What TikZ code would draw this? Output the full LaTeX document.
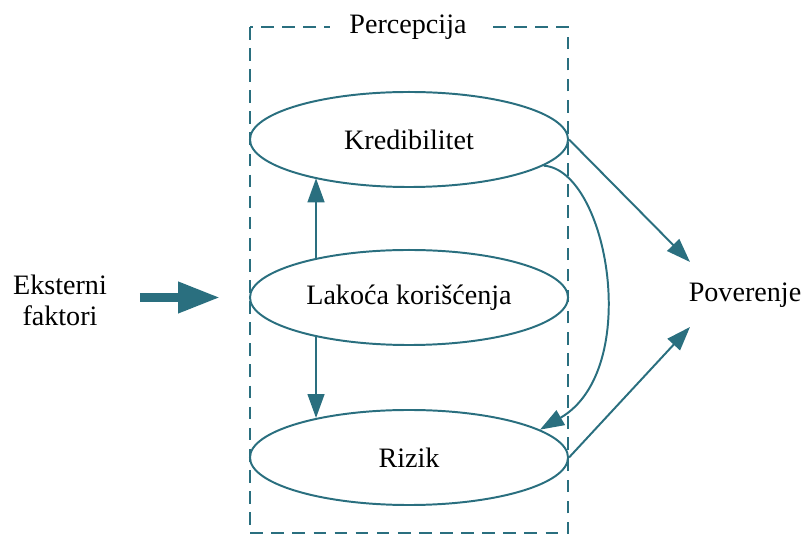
\documentclass[tikz,border=0pt]{standalone}
\usepackage{fontspec}
\setmainfont{Liberation Serif}
\usetikzlibrary{shapes.geometric,arrows.meta,positioning}
\definecolor{tealline}{HTML}{2A6F7F}
\tikzset{
  faktor/.style={ellipse, draw=tealline, line width=1.4pt, minimum width=7.95cm, minimum height=2.375cm},
  veza/.style={draw=tealline, line width=1.4pt, -{Triangle[length=0.6cm,width=0.42cm]}},
  ulaz/.style={draw=tealline, line width=6.4pt, -{Triangle[length=1.05cm,width=0.73cm]}}
}
\begin{document}
\begin{tikzpicture}[x=0.025cm,y=-0.025cm,font=\fontsize{20}{22}\selectfont]
\useasboundingbox (0,0) rectangle (803,536);
\draw[tealline, line width=1.4pt, dash pattern=on 9pt off 6pt] (250,27) rectangle (568,533);
\node[fill=white, inner xsep=14pt, inner ysep=2pt] (percepcija) at (408,27) {Percepcija};
\node[faktor] (kred) at (409,139.5) {Kredibilitet};
\node[faktor] (lakoca) at (409,297.5) {Lakoća korišćenja};
\node[faktor] (rizik) at (409,457.5) {Rizik};
\node[align=center] (ext) at (60,300) {Eksterni\\faktori};
\node (pov) at (745,295) {Poverenje};
\coordinate (povgore) at (690,262);
\coordinate (povdole) at (690,327);
\draw[ulaz, shorten <=0.7cm, shorten >=0.72cm] (ext.east |- lakoca.west) -- (lakoca.west);
\draw[veza] (lakoca.157.5) -- (kred.202.5 -| lakoca.157.5);
\draw[veza] (lakoca.202.5 -| lakoca.157.5) -- (rizik.157.5 -| lakoca.157.5);
\draw[veza] (kred.east) -- (povgore);
\draw[veza] (rizik.east) -- (povdole);
\draw[veza] (kred.-11) .. controls (608,170) and (643,370) .. (rizik.12);
\end{tikzpicture}
\end{document}
